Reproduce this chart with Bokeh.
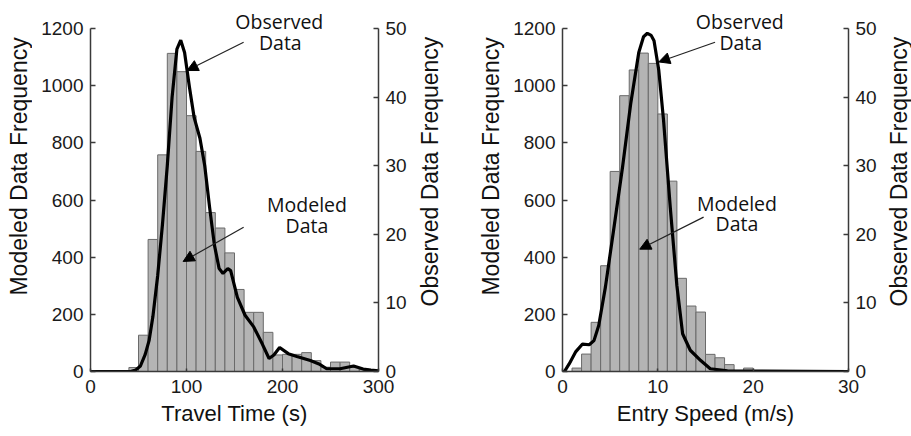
import math
from bokeh.plotting import figure
from bokeh.models import Range1d, LinearAxis, Arrow, NormalHead, FixedTicker
from bokeh.layouts import row
from bokeh.core.properties import value
from bokeh.embed import file_html
from bokeh.resources import INLINE

# ---------------- data: travel time ----------------
tt_bin_starts = [40, 50, 60, 70, 80, 90, 100, 110, 120, 130, 140, 150, 160, 170, 180,
                 190, 200, 210, 220, 230, 240, 250, 260, 270, 280, 290]
tt_bin_width = 10
tt_model_counts = [14, 127, 462, 758, 1113, 1049, 895, 770, 556, 502, 415, 287, 207, 207, 137,
                   58, 60, 60, 66, 38, 15, 33, 33, 14, 8, 4]
tt_obs_x = [0, 42, 47, 52, 57, 61, 65, 70, 75, 80, 85, 90, 94, 98, 103, 108, 114, 119, 124, 129,
            134, 138, 143, 146, 153, 161, 170, 179, 186, 191, 197, 206, 215, 229, 238, 246, 260,
            274, 284, 292, 300]
tt_obs_y = [0, 0, 0.2, 0.8, 2.5, 4.5, 8, 14, 21.5, 30, 40, 47, 48.3, 46.5, 41.5, 37, 34, 30, 24,
            18.5, 15, 14.3, 15, 14.7, 10.8, 8.2, 6.5, 4.0, 1.9, 2.4, 3.5, 2.6, 2.2, 1.6, 1.1, 0.4,
            0.4, 0.8, 0.35, 0.2, 0.1]

# ---------------- data: entry speed ----------------
es_bin_starts = [1, 2, 3, 4, 5, 6, 7, 8, 9, 10, 11, 12, 13, 14, 15, 16, 17, 18, 19]
es_bin_width = 1
es_model_counts = [12, 61, 172, 370, 700, 965, 1055, 1114, 1078, 901, 666, 326, 229, 208,
                   60, 48, 24, 0, 12]
es_obs_x = [0, 0.2, 0.7, 1.4, 2.1, 2.8, 3.3, 3.8, 4.5, 5.4, 6.3, 7.15, 8.0, 8.5, 8.9, 9.3, 9.6,
            10.1, 10.6, 11.3, 12.0, 12.6, 13.4, 14.5, 15.5, 17.3, 30]
es_obs_y = [0, 0, 1.1, 2.9, 4.0, 3.9, 4.5, 6.7, 12.3, 21, 29.8, 39, 46.5, 48.8, 49.3, 49, 48.2,
            43.9, 36.6, 24, 12.5, 5.5, 3.1, 1.6, 0.4, 0.1, 0]

left_ticks = [0, 200, 400, 600, 800, 1000, 1200]
right_ticks = [0, 10, 20, 30, 40, 50]
tt_x_ticks = [0, 100, 200, 300]
es_x_ticks = [0, 10, 20, 30]

left_title = "Modeled Data Frequency"
right_title = "Observed Data Frequency"

H = 436
Y_TOP = 1298.0
RATIO = 24.0

TICK_FONT = "Liberation Sans"
LABEL_FONT = "Liberation Sans"


def style_axis(ax, bounds, ticks):
    ax.bounds = bounds
    ax.ticker = FixedTicker(ticks=ticks)
    ax.axis_line_color = "#3a3a3a"
    ax.axis_line_width = 1.5
    ax.major_tick_line_color = "#3a3a3a"
    ax.major_tick_line_width = 1.5
    ax.major_tick_in = 5
    ax.major_tick_out = 0
    ax.minor_tick_line_color = None
    ax.major_label_text_font = TICK_FONT
    ax.major_label_text_font_size = "19px"
    ax.major_label_text_color = "#1a1a1a"
    ax.axis_label_text_font = LABEL_FONT
    ax.axis_label_text_font_size = "22px"
    ax.axis_label_text_font_style = "normal"
    ax.axis_label_text_color = "#111111"


def title_fig(width, xs, ys, texts):
    f = figure(width=width, height=H, output_backend="svg", toolbar_location=None,
               x_range=Range1d(0, width), y_range=Range1d(H, 0),
               x_axis_type=None, y_axis_type=None, min_border=0)
    f.outline_line_color = None
    f.grid.visible = False
    f.text(x=xs, y=ys, text=texts, angle=math.pi / 2, text_align="center",
           text_baseline="middle", text_font=value(LABEL_FONT), text_font_size="23px",
           text_color="#111111")
    return f


def make_panel(width, mb_left, mb_right, x_max, x_ticks, x_label,
               starts, bw, counts, ox, oy, texts, arrows):
    p = figure(width=width, height=H, output_backend="svg", toolbar_location=None,
               x_range=Range1d(0, x_max), y_range=Range1d(0, Y_TOP),
               min_border_left=mb_left, min_border_right=mb_right,
               min_border_top=0, min_border_bottom=65)
    p.outline_line_color = None
    p.xgrid.visible = False
    p.ygrid.visible = False

    style_axis(p.xaxis[0], (0, x_max), x_ticks)
    p.xaxis[0].axis_label = x_label
    p.xaxis[0].major_label_standoff = 8
    p.xaxis[0].axis_label_standoff = 5
    p.xaxis[0].major_tick_in = 3

    style_axis(p.yaxis[0], (0, 1200), left_ticks)
    p.yaxis[0].major_label_standoff = 7

    p.extra_y_ranges = {"obs": Range1d(0, Y_TOP / RATIO)}
    rax = LinearAxis(y_range_name="obs")
    style_axis(rax, (0, 50), right_ticks)
    rax.major_label_standoff = 7
    p.add_layout(rax, "right")

    rights = [s + bw for s in starts]
    p.quad(left=starts, right=rights, bottom=0, top=counts,
           fill_color="#b4b4b4", line_color="#6a6a6a", line_width=1)
    p.line(ox, oy, y_range_name="obs", line_color="black", line_width=3.2)

    tx, ty, tt = texts
    p.text(x=tx, y=ty, text=tt, text_font=value("Open Sans"), text_font_size="19.5px",
           text_align="center", text_baseline="middle", text_color="#111111")

    for (x0, y0, x1, y1) in arrows:
        p.add_layout(Arrow(end=NormalHead(size=11, fill_color="black", line_color="black"),
                           x_start=x0, y_start=y0, x_end=x1, y_end=y1,
                           line_color="#222222", line_width=1.2))
    return p


tt_texts = ([196.7, 197.7, 225.5, 225.5], [1223, 1150, 584, 512],
            ["Observed", "Data", "Modeled", "Data"])
tt_arrows = [(159.5, 1152, 100.5, 1053), (159.5, 505, 96.5, 385)]

es_texts = ([18.6, 18.7, 18.3, 18.3], [1223, 1152, 589, 517],
            ["Observed", "Data", "Modeled", "Data"])
es_arrows = [(16.0, 1152, 10.1, 1083), (14.8, 540, 8.1, 428)]

t1 = title_fig(32, [18.5], [195], [left_title])
p1 = make_panel(380, 58, 34, 300, tt_x_ticks, "Travel Time (s)",
                tt_bin_starts, tt_bin_width, tt_model_counts, tt_obs_x, tt_obs_y,
                tt_texts, tt_arrows)
t2 = title_fig(93, [17.5, 78.5], [201, 195], [right_title, left_title])
p2 = make_panel(374, 57, 29, 30, es_x_ticks, "Entry Speed (m/s)",
                es_bin_starts, es_bin_width, es_model_counts, es_obs_x, es_obs_y,
                es_texts, es_arrows)
t3 = title_fig(32, [19], [201], [right_title])

layout = row(t1, p1, t2, p2, t3)
open("out.html", "w").write(file_html(layout, INLINE))
